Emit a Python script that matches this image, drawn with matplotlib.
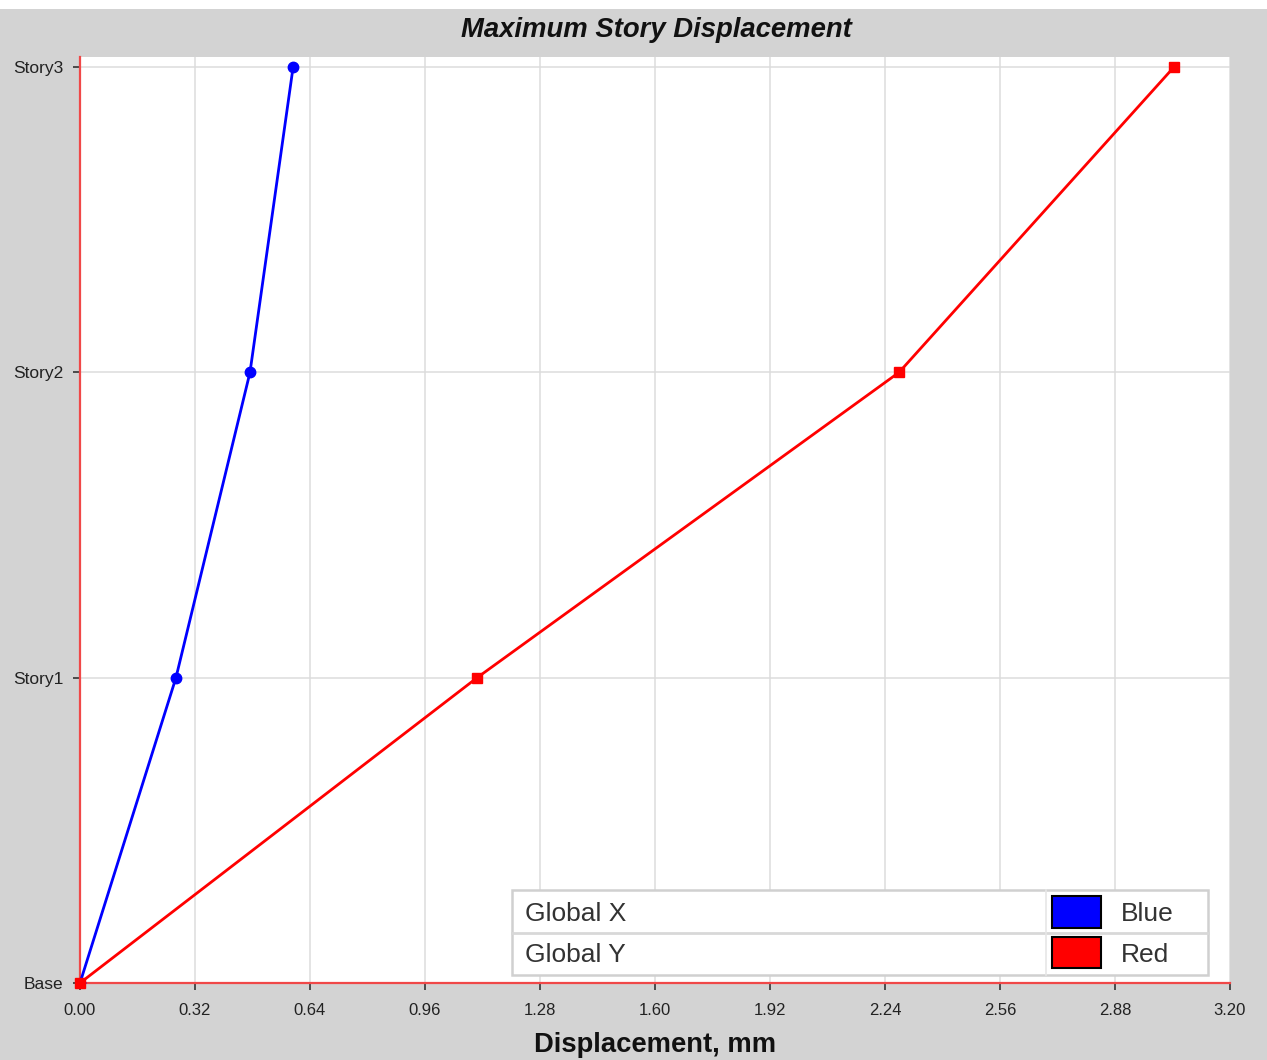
import matplotlib
matplotlib.use("Agg")
import matplotlib.pyplot as plt
from matplotlib.patches import Rectangle
import numpy as np

stories = ["Base", "Story1", "Story2", "Story3"]
global_x = [0.0, 0.267, 0.473, 0.593]
global_y = [0.0, 1.105, 2.279, 3.044]
series_names = ["Global X", "Global Y"]
series_colors = ["Blue", "Red"]
xticks = [0.00, 0.32, 0.64, 0.96, 1.28, 1.60, 1.92, 2.24, 2.56, 2.88, 3.20]

W, H = 1267, 1060
BG = "#d3d3d3"
plt.rcParams['font.family'] = ['Liberation Sans', 'DejaVu Sans']

fig = plt.figure(figsize=(W / 100, H / 100), dpi=100, facecolor=BG)
# white strip at the top
fig.add_artist(Rectangle((0, 1 - 9 / H), 1, 9 / H, transform=fig.transFigure,
                         facecolor="white", edgecolor="none"))

def fx(px):
    return px / W

def fy(py):
    return 1 - py / H

ax = fig.add_axes([fx(80), fy(983), fx(1230) - fx(80), fy(57) - fy(983)])
ax.set_facecolor("white")
yvals = np.arange(len(stories))

ax.plot(global_x, yvals, color="#0000ff", lw=2.0, marker="o", ms=7.5, zorder=3)
ax.plot(global_y, yvals, color="#ff0000", lw=2.0, marker="s", ms=7, zorder=4,
        clip_on=False)

ax.set_xlim(0, 3.2)
ax.set_ylim(0, 3.033)
ax.set_xticks(xticks)
ax.set_xticklabels([f"{t:.2f}" for t in xticks], fontsize=12, color="#222222")
ax.set_yticks(yvals)
ax.set_yticklabels(stories, fontsize=12.5, color="#222222")
ax.grid(True, color="#dcdcdc", lw=1.1)
ax.set_axisbelow(True)
for s in ["top", "right"]:
    ax.spines[s].set_visible(False)
for s in ["left", "bottom"]:
    ax.spines[s].set_color("#f04848")
    ax.spines[s].set_linewidth(1.6)
ax.tick_params(axis="both", length=5, width=1.2, color="#333333")
ax.tick_params(axis="x", pad=9.5)
ax.tick_params(axis="y", pad=7)

fig.text(fx(656), fy(30), "Maximum Story Displacement", ha="center", va="center",
         fontsize=19.8, fontweight="bold", fontstyle="italic", color="#111111")
fig.text(fx(655), fy(1045), "Displacement, mm", ha="center", va="center",
         fontsize=19.7, fontweight="bold", color="#111111")

# legend table
lx0, lx1, ly0, ly1 = 512, 1208, 890, 975
fig.add_artist(Rectangle((fx(lx0), fy(ly1)), fx(lx1) - fx(lx0), fy(ly0) - fy(ly1),
                         transform=fig.transFigure, facecolor="white",
                         edgecolor="#d0d0d0", lw=1.8, zorder=10))
fig.add_artist(plt.Line2D([fx(lx0), fx(lx1)], [fy(933), fy(933)],
                          transform=fig.transFigure, color="#d8d8d8", lw=2, zorder=11))
fig.add_artist(plt.Line2D([fx(1046), fx(1046)], [fy(ly0), fy(ly1)],
                          transform=fig.transFigure, color="#e6e6e6", lw=1.2, zorder=11))
rows = [(896, 928), (937, 968)]
fc = ["#0000ff", "#ff0000"]
for (r0, r1), name, cname, c in zip(rows, series_names, series_colors, fc):
    fig.add_artist(Rectangle((fx(1052), fy(r1)), fx(1101) - fx(1052), fy(r0) - fy(r1),
                             transform=fig.transFigure, facecolor=c,
                             edgecolor="black", lw=1.5, zorder=12))
    yc = fy((r0 + r1) / 2 + 2)
    fig.text(fx(525), yc, name, ha="left", va="center", fontsize=19,
             color="#333333", zorder=12)
    fig.text(fx(1121), yc, cname, ha="left", va="center", fontsize=19,
             color="#333333", zorder=12)

fig.savefig("out.png", dpi=100, facecolor=BG)
